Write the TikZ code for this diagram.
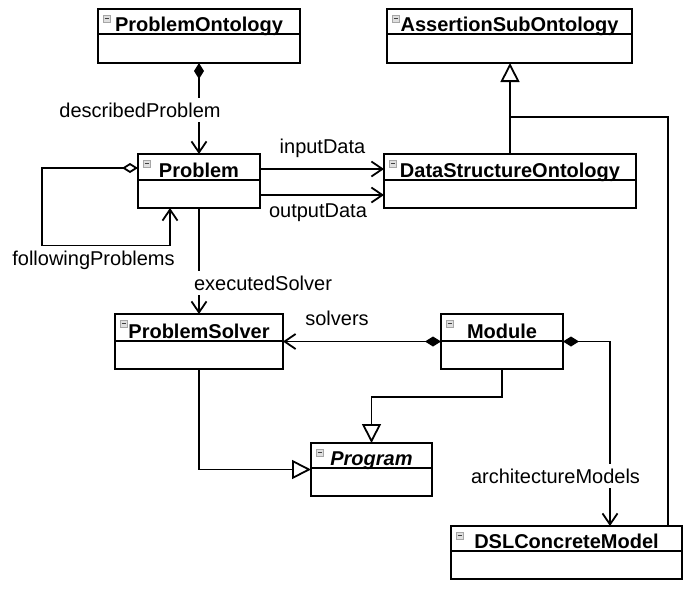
\documentclass[tikz,border=0pt]{standalone}
\usepackage{fontspec}
\setmainfont{Liberation Sans}
\usetikzlibrary{arrows.meta}
\newcommand{\myumlclass}[8]{% name, x1, y1, x2, y2, ydiv, font extra, title
  \node[clsbox, minimum width={#4-#2}, minimum height={#5-#3}, anchor=north west] (#1) at (#2,#3) {};
  \draw[clsline] (#2,#6) -- (#4,#6);
  \node[clstitle, anchor=base] (#1-title) at ({(#2+#4)/2},{#6-3}) {#7#8};
  \draw[clsicon] ({#2+5},{#3+6}) rectangle ({#2+12},{#3+13});
  \draw[clsiconbar] ({#2+6.5},{#3+9.5}) -- ({#2+10.5},{#3+9.5});
}
\begin{document}
\begin{tikzpicture}[x=1pt,y=-1pt,
  clsbox/.style={draw, line width=1.8pt, fill=white, inner sep=0pt, outer sep=0pt},
  clsline/.style={line width=1.8pt},
  clstitle/.style={font=\fontsize{20}{24}\selectfont\bfseries, inner sep=0pt},
  clsicon/.style={draw=gray!70, fill=gray!25, line width=0.6pt},
  clsiconbar/.style={draw=black!75, line width=1pt},
  conn/.style={line width=1.8pt},
  nav/.style={-{Straight Barb[length=11pt,width=15pt]}},
  gen/.style={-{Triangle[open,length=19pt,width=19pt]}},
  compnav/.style={{Diamond[length=16pt,width=10pt]}-{Straight Barb[length=11pt,width=15pt]}},
  aggrnav/.style={{Diamond[open,length=16pt,width=10pt]}-{Straight Barb[length=11pt,width=15pt]}},
  lbl/.style={font=\fontsize{20}{24}\selectfont, fill=white, inner xsep=2pt, inner ysep=5pt, anchor=base}
]
\useasboundingbox (0,0) rectangle (686,590);

% classes
\myumlclass{po}{98}{9}{300}{63}{34}{}{ProblemOntology}
\myumlclass{aso}{387}{9}{632}{63}{34}{}{AssertionSubOntology}
\myumlclass{pr}{138}{154}{260}{208}{180}{}{Problem}
\myumlclass{dso}{384}{154}{636}{208}{180}{}{DataStructureOntology}
\myumlclass{ps}{115}{314}{283}{369}{341}{}{ProblemSolver}
\myumlclass{mod}{441}{314}{563}{369}{341}{}{Module}
\myumlclass{prog}{311}{443}{432}{496}{468}{\itshape}{Program}
\myumlclass{dcm}{451}{526}{682}{579}{551}{}{DSLConcreteModel}

% helper coordinates
\coordinate (prloop) at ([yshift=13pt]pr.west);
\coordinate (prin) at ([yshift=12pt]pr.east);
\coordinate (prout) at ([yshift=-14pt]pr.east);
\coordinate (prfol) at ([xshift=-29pt]pr.south);
\coordinate (dcmgen) at ([xshift=-14pt]dcm.north east);
\coordinate (dcmarch) at ([xshift=43.5pt]dcm.north);

% connectors
\draw[conn, compnav] (po.south) -- (pr.north);
\draw[conn, aggrnav] (prloop) -| (42,246) -| (prfol);
\draw[conn, nav] (prin) -- (prin -| dso.west);
\draw[conn, nav] (prout) -- (prout -| dso.west);
\draw[conn, gen] (dso.north) -- (dso.north |- aso.south);
\draw[conn] (dcmgen) |- (dso.north |- 0,117);
\draw[conn, nav] (pr.south) -- (ps.north);
\draw[conn, compnav] (mod.west) -- (ps.east);
\draw[conn, compnav] (mod.east) -| (dcmarch);
\draw[conn, gen] (ps.south) |- (prog.west);
\draw[conn, gen] (mod.south) |- (prog.north |- 0,397) -- (prog.north);

% labels
\node[lbl] (ldesc) at (140,117) {describedProblem};
\node[lbl] (lin) at (322.5,153) {inputData};
\node[lbl] (lout) at (318,217) {outputData};
\node[lbl] (lfol) at (93.5,265) {followingProblems};
\node[lbl] (lexec) at (263,290) {executedSolver};
\node[lbl] (lsolv) at (337,325) {solvers};
\node[lbl] (larch) at (555.5,483) {architectureModels};
\end{tikzpicture}
\end{document}
